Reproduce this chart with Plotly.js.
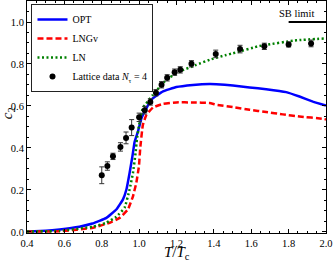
<!DOCTYPE html>
<html>
<head>
<meta charset="utf-8">
<script src="https://cdn.plot.ly/plotly-3.0.1.min.js"></script>
<style>html,body{margin:0;padding:0;background:#fff;}#chart{width:333px;height:262px;}</style>
</head>
<body>
<div id="chart"></div>
<script>
// OPT model curve
const optT = [0.4, 0.5, 0.575, 0.68, 0.75, 0.825, 0.878, 0.913, 0.932, 0.949, 0.964, 0.976, 0.994, 1.013, 1.039, 1.074, 1.128, 1.199, 1.288, 1.377, 1.413, 1.502, 1.591, 1.68, 1.787, 1.858, 1.93, 2.0];
const optC2 = [0.003, 0.006, 0.012, 0.025, 0.04, 0.067, 0.107, 0.154, 0.202, 0.281, 0.36, 0.43, 0.479, 0.543, 0.59, 0.637, 0.669, 0.69, 0.70, 0.705, 0.704, 0.697, 0.688, 0.68, 0.666, 0.645, 0.621, 0.602];
// LNGv model curve
const lngvT = [0.4, 0.5, 0.575, 0.753, 0.842, 0.896, 0.94, 0.967, 0.985, 0.999, 1.006, 1.02, 1.039, 1.074, 1.127, 1.199, 1.288, 1.377, 1.413, 1.502, 1.591, 1.68, 1.769, 1.858, 1.983, 2.0];
const lngvC2 = [0.002, 0.002, 0.003, 0.02, 0.044, 0.067, 0.107, 0.17, 0.234, 0.313, 0.40, 0.51, 0.558, 0.593, 0.61, 0.617, 0.617, 0.614, 0.606, 0.595, 0.582, 0.571, 0.56, 0.55, 0.539, 0.536];
// LN model curve
const lnT = [0.4, 0.575, 0.753, 0.825, 0.878, 0.922, 0.949, 0.967, 0.981, 0.988, 1.0, 1.02, 1.074, 1.145, 1.217, 1.306, 1.377, 1.466, 1.502, 1.644, 1.68, 1.823, 1.858, 2.0];
const lnC2 = [0.002, 0.005, 0.025, 0.044, 0.072, 0.115, 0.202, 0.281, 0.376, 0.44, 0.51, 0.59, 0.653, 0.725, 0.764, 0.796, 0.82, 0.843, 0.851, 0.886, 0.891, 0.911, 0.914, 0.922];
// Lattice data N_tau = 4
const latT = [0.80, 0.83, 0.86, 0.90, 0.93, 0.96, 1.00, 1.03, 1.06, 1.09, 1.12, 1.15, 1.19, 1.22, 1.28, 1.41, 1.54, 1.67, 1.80, 1.92];
const latC2 = [0.27, 0.314, 0.36, 0.405, 0.448, 0.497, 0.546, 0.580, 0.619, 0.663, 0.701, 0.734, 0.761, 0.772, 0.801, 0.848, 0.871, 0.884, 0.893, 0.898];
const latErr = [0.04, 0.02, 0.015, 0.02, 0.028, 0.038, 0.02, 0.018, 0.015, 0.015, 0.015, 0.015, 0.015, 0.015, 0.015, 0.018, 0.018, 0.015, 0.012, 0.016];
// Stefan-Boltzmann limit
const sbT = [1.8, 2.0];
const sbC2 = [1.0, 1.0];
const sbLabel = 'SB limit';
const xTitle = '<i>T</i>/<i>T</i><sub>c</sub>';
const yTitle = '<i>c</i><sub>2</sub>';

const serif = 'Liberation Serif, Times New Roman, serif';

const traces = [
  {x: optT, y: optC2, mode: 'lines', name: 'OPT', line: {color: '#0000ff', width: 2.5, shape: 'spline', smoothing: 0.3}},
  {x: lngvT, y: lngvC2, mode: 'lines', name: 'LNGv', line: {color: '#ff0000', width: 2.5, dash: '6px,3px', shape: 'spline', smoothing: 0.3}},
  {x: lnT, y: lnC2, mode: 'lines', name: 'LN', line: {color: '#008000', width: 2.5, dash: '2px,2.5px', shape: 'spline', smoothing: 0.3}},
  {x: latT, y: latC2, mode: 'markers', name: 'Lattice data <i>N</i><sub>τ</sub> = 4',
   marker: {color: '#000', size: 6},
   error_y: {type: 'data', array: latErr, visible: true, color: '#333', thickness: 1, width: 2.5}},
  {x: sbT, y: sbC2, mode: 'lines', showlegend: false, line: {color: '#000', width: 2}, hoverinfo: 'skip'}
];

const axBase = {
  showline: true, linecolor: '#000', linewidth: 1, mirror: 'ticks',
  ticks: 'inside', ticklen: 4, tickwidth: 1, tickcolor: '#000',
  showgrid: false, zeroline: false, tickformat: '.1f',
  tickfont: {family: serif, size: 10.5, color: '#000'},
  automargin: false
};

const layout = {
  width: 333, height: 262,
  margin: {l: 27, r: 7, t: 1, b: 29},
  paper_bgcolor: '#fff', plot_bgcolor: '#fff',
  showlegend: true,
  xaxis: Object.assign({}, axBase, {
    range: [0.4, 2.0], dtick: 0.2, tick0: 0,
    minor: {dtick: 0.05, tick0: 0, ticks: 'inside', ticklen: 2, tickcolor: '#000', showgrid: false}
  }),
  yaxis: Object.assign({}, axBase, {
    range: [-0.005, 1.1], dtick: 0.2, tick0: 0,
    minor: {dtick: 0.05, tick0: 0, ticks: 'inside', ticklen: 2, tickcolor: '#000', showgrid: false}
  }),
  legend: {
    x: 0.015, y: 0.987, xanchor: 'left', yanchor: 'top',
    bgcolor: '#fff', bordercolor: '#222', borderwidth: 1,
    font: {family: serif, size: 10, color: '#000'},
    itemwidth: 30, tracegroupgap: 0
  },
  annotations: [
    {x: (sbT[0] + sbT[1]) / 2 - 0.06, y: sbC2[0], xref: 'x', yref: 'y',
     text: sbLabel, showarrow: false, yanchor: 'bottom', yshift: 1,
     font: {family: serif, size: 10.5, color: '#000'}},
    {x: 0.5, y: -0.124, xref: 'paper', yref: 'paper', xanchor: 'center', yanchor: 'bottom', yshift: -1,
     text: xTitle, showarrow: false, borderpad: 0, font: {family: serif, size: 15, color: '#000'}},
    {x: -0.063, y: 0.517, xref: 'paper', yref: 'paper', xanchor: 'center', yanchor: 'middle',
     text: yTitle, textangle: -90, showarrow: false, borderpad: 0, font: {family: serif, size: 15, color: '#000'}}
  ]
};

Plotly.newPlot('chart', traces, layout, {staticPlot: true, displayModeBar: false});
</script>
</body>
</html>
